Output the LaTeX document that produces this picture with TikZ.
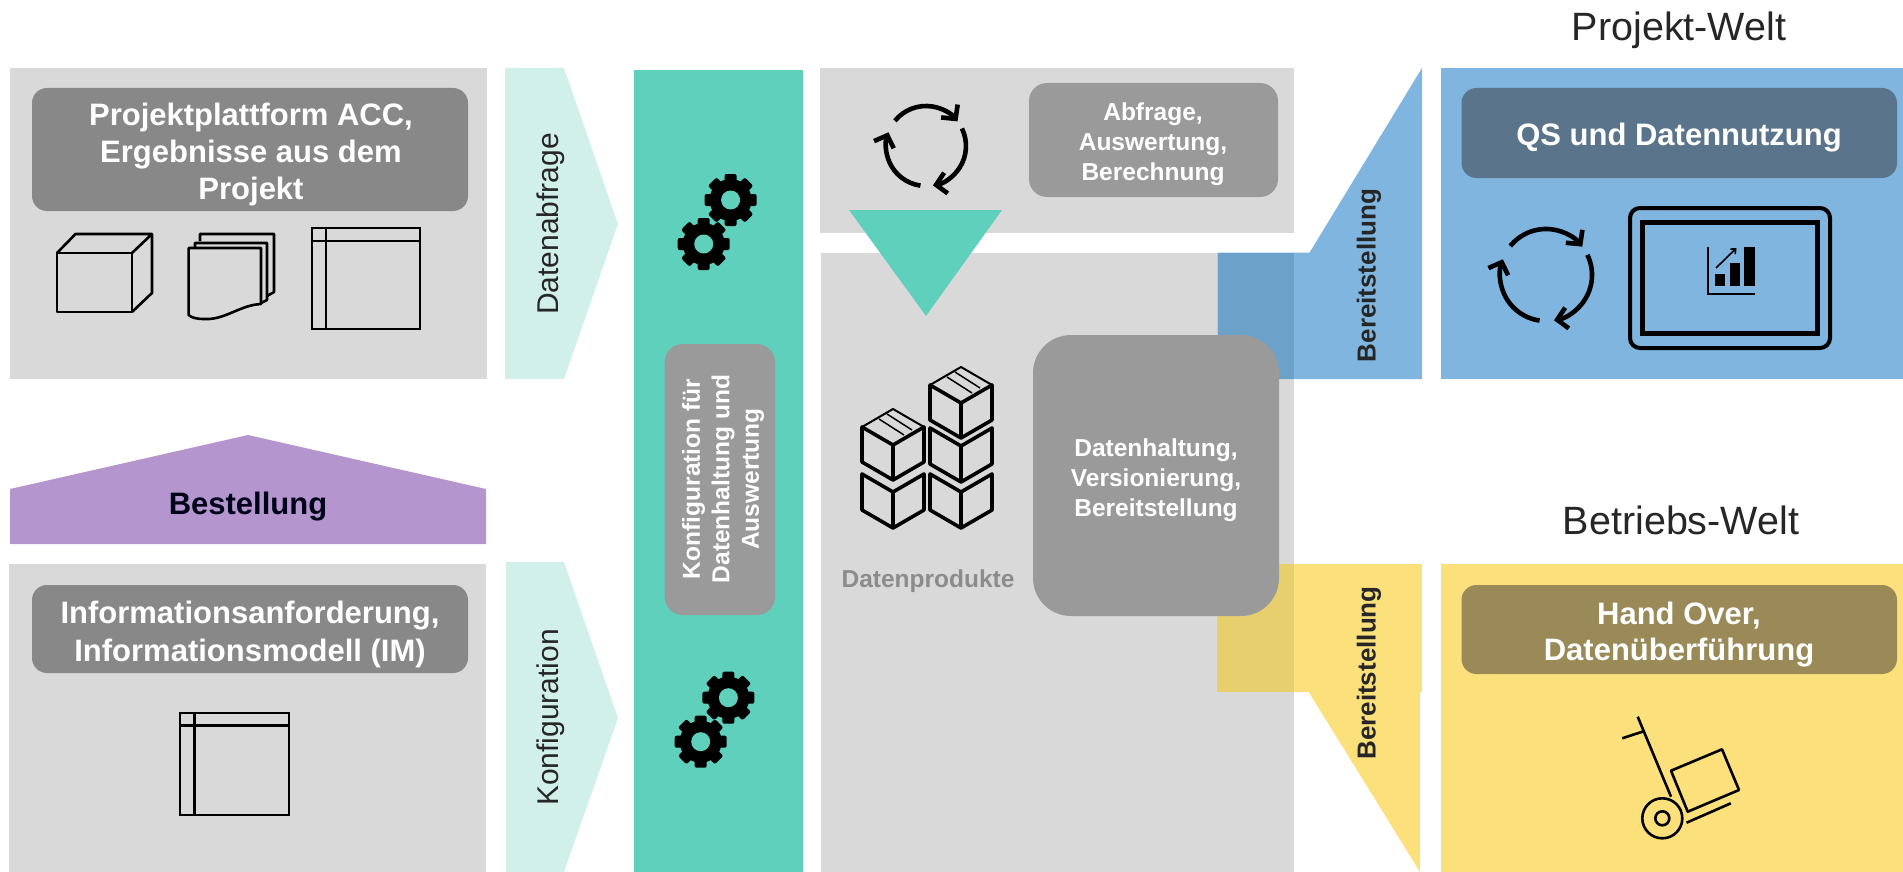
\documentclass[tikz,border=0pt]{standalone}
\usepackage{fontspec}
\setmainfont{Liberation Sans}
\usetikzlibrary{arrows.meta}
\definecolor{panelgrey}{HTML}{D9D9D9}
\definecolor{titlegrey}{HTML}{888888}
\definecolor{boxgrey}{HTML}{9A9A9A}
\definecolor{teal}{HTML}{5ED0BC}
\definecolor{lightteal}{HTML}{D1F0EA}
\definecolor{purp}{HTML}{B495CE}
\definecolor{blu}{HTML}{7FB5DF}
\definecolor{bluover}{HTML}{6CA1CA}
\definecolor{bluebox}{HTML}{5A748B}
\definecolor{yel}{HTML}{FBE07C}
\definecolor{yelover}{HTML}{E7CF6E}
\definecolor{yelbox}{HTML}{998A58}
\newcommand{\fs}[1]{\fontsize{#1}{#1}\selectfont}
% rectangle node by corners: name, x1, y1, x2, y2, style
\newcommand{\rbox}[6]{%
  \pgfmathsetmacro{\rw}{#4-#2}\pgfmathsetmacro{\rh}{#5-#3}%
  \node[#6,minimum width=\rw pt,minimum height=\rh pt] (#1) at ({(#2+#4)/2},{(#3+#5)/2}) {};}
% cycle icon: centre x, y, radius
\newcommand{\cycleicon}[3]{%
  \begin{scope}[shift={(#1,#2)},x=1pt,y=1pt]
    \draw[icoline,-{Straight Barb[length=10pt,width=21pt]}] (141:#3) arc[start angle=141,end angle=38,radius=#3];
    \draw[icoline,-{Straight Barb[length=10pt,width=21pt]}] (26:#3) arc[start angle=26,end angle=-80,radius=#3];
    \draw[icoline,-{Straight Barb[length=10pt,width=21pt]}] (-98:#3) arc[start angle=-98,end angle=-200,radius=#3];
  \end{scope}}
% stacked cube, no top face: centre x, bottom y
\newcommand{\opencube}[2]{%
  \begin{scope}[shift={(#1,#2)}]
    \draw[cubeline] (0,-36) -- (-31,-54) -- (-31,-18) -- (0,0) -- (31,-18) -- (31,-54) -- cycle;
    \draw[cubeline] (0,-36) -- (0,0);
  \end{scope}}
% full cube with parcel tape: centre x, bottom y
\newcommand{\topcube}[2]{%
  \begin{scope}[shift={(#1,#2)}]
    \draw[line width=2pt,line join=round] (-31,-53) -- (0,-71) -- (31,-53);
    \draw[line width=1.5pt] (-14,-61) -- (11,-45) (-6,-66) -- (19,-50);
    \draw[cubeline] (0,-35) -- (-31,-53) -- (-31,-18) -- (0,0) -- (31,-18) -- (31,-53) -- cycle;
    \draw[cubeline] (0,-35) -- (0,0);
  \end{scope}}
\tikzset{
  panel/.style={fill=panelgrey,draw=none,inner sep=0pt,outer sep=0pt},
  titlebox/.style={fill=titlegrey,draw=none,rounded corners=15pt,inner sep=0pt},
  greybox/.style={fill=boxgrey,draw=none,rounded corners=18pt,inner sep=0pt},
  whitelabel/.style={text=white,font=\bfseries\fs{31},align=center,inner sep=0pt},
  smalllabel/.style={text=white,font=\bfseries\fs{24.5},align=center,inner sep=0pt},
  sidelabel/.style={text=black!85,font=\fs{30},rotate=90,inner sep=0pt},
  boldside/.style={text=black!85,font=\bfseries\fs{26},rotate=90,inner sep=0pt},
  worldtitle/.style={text=black!85,font=\fs{39.5},inner sep=0pt},
  icoline/.style={line width=4.6pt,draw=black},
  cubeline/.style={line width=3.6pt,draw=black,line join=round},
  thin1/.style={line width=2.6pt,draw=black},
  gearicon/.pic={
    \fill[black] (0,0) circle[radius=21];
    \foreach \a in {0,45,...,315}{
      \fill[black,rotate=\a,rounded corners=2pt] (-6,15) rectangle (6,26);
    }
    \fill[teal] (0,0) circle[radius=9.5];
  },
}
\begin{document}
\begin{tikzpicture}[x=1pt,y=-1pt]
\useasboundingbox (0,0) rectangle (1903,872);
% left panels
\rbox{pA}{10}{68}{487}{379}{panel}
\rbox{pB}{9}{564}{486}{872}{panel}
\rbox{tA}{32}{88}{468}{211}{titlebox}
\rbox{tB}{32}{585}{468}{673}{titlebox}
\node[whitelabel] (tAa) at (251,117.5) {Projektplattform ACC,};
\node[whitelabel] (tAb) at (251,154.5) {Ergebnisse aus dem};
\node[whitelabel] (tAc) at (251,191.5) {Projekt};
\node[whitelabel] (tBa) at (250,616) {Informationsanforderung,};
\node[whitelabel] (tBb) at (250,653) {Informationsmodell (IM)};
% cube
\draw[thin1,line join=round] (57,253) rectangle (132,312);
\draw[thin1,line join=round] (57,253) -- (75.5,234) -- (152,234) -- (152,293) -- (132,312) (132,253) -- (152,234);
% documents
\draw[thin1,line join=round] (200,241) -- (200,234) -- (274,234) -- (274,292) -- (267,296);
\draw[thin1,line join=round] (195,248) -- (195,243) -- (267,243) -- (267,300) -- (261,303);
\draw[thin1,line join=round] (188.6,248) -- (261,248) -- (261,304) .. controls (240,305) and (225,320) .. (205,319) .. controls (197,319) and (192,318) .. (188.6,315) -- cycle;
% tables
\draw[thin1] (312,228) rectangle (420,329) (326,228) -- (326,329) (312,241) -- (420,241);
\draw[thin1] (180,713) rectangle (289,815) (194.5,713) -- (194.5,815) (180,725.7) -- (289,725.7);
% roof
\fill[purp] (10,489) -- (248,435) -- (486,489) -- (486,544) -- (10,544) -- cycle;
\node[font=\bfseries\fs{31},text=black!90!blue,inner sep=0pt] (best) at (248,507) {Bestellung};
% chevrons
\fill[lightteal] (505,68) -- (564,68) -- (618,224) -- (564,379) -- (505,379) -- cycle;
\fill[lightteal] (506,562) -- (564,562) -- (618,718) -- (564,872) -- (506,872) -- cycle;
\node[sidelabel] (labq) at (551,224) {Datenabfrage};
\node[sidelabel] (lkon) at (551,717.5) {Konfiguration};
% teal column
\rbox{col}{634}{70}{802.6}{872}{fill=teal,inner sep=0pt}
\pic at (730.6,200) {gearicon};
\pic at (703.7,244) {gearicon};
\pic at (728.4,697.7) {gearicon};
\pic at (700.7,741.7) {gearicon};
\rbox{kbox}{664.7}{344}{775}{615}{greybox}
\node[smalllabel,rotate=90] (kl1) at (693.5,479) {Konfiguration für};
\node[smalllabel,rotate=90] (kl2) at (723,479) {Datenhaltung und};
\node[smalllabel,rotate=90] (kl3) at (753,479) {Auswertung};
% centre panels
\rbox{pC}{820}{68}{1293.5}{233}{panel}
\rbox{pD}{821}{252.5}{1293.5}{872}{panel}
\cycleicon{926}{146}{40}
\rbox{qbox}{1029}{83}{1278}{197}{greybox}
\node[smalllabel] (q1) at (1153,114.5) {Abfrage,};
\node[smalllabel] (q2) at (1153,144.5) {Auswertung,};
\node[smalllabel] (q3) at (1153,174.5) {Berechnung};
\fill[teal] (849,210) -- (1002,210) -- (926,316) -- cycle;
% cubes
\opencube{893}{528}
\opencube{961}{528}
\opencube{961}{482}
\topcube{893}{480}
\topcube{961}{438}
\node[font=\bfseries\fs{24.5},text=black!45,inner sep=0pt] (prod) at (928,581) {Datenprodukte};
% blue and yellow funnels
\fill[blu] (1422,68) -- (1422,379) -- (1217.6,379) -- (1217.6,252.5) -- (1309.6,252.5) -- cycle;
\fill[bluover] (1217.6,252.5) rectangle (1293.5,379);
\fill[yel] (1216.7,564) rectangle (1422,691.7);
\fill[yel] (1308.5,691.7) -- (1420,691.7) -- (1420,872) -- cycle;
\fill[yelover] (1216.7,564) rectangle (1293.5,691.7);
\rbox{dbox}{1033}{335}{1279}{616}{greybox,rounded corners=38pt}
\node[smalllabel] (d1) at (1156,450) {Datenhaltung,};
\node[smalllabel] (d2) at (1156,480) {Versionierung,};
\node[smalllabel] (d3) at (1156,510) {Bereitstellung};
\node[boldside] (be1) at (1369,275.5) {Bereitstellung};
\node[boldside] (be2) at (1369,673) {Bereitstellung};
% right panels
\rbox{pE}{1441}{68}{1903}{379}{panel,fill=blu}
\rbox{pF}{1441}{564}{1903}{872}{panel,fill=yel}
\rbox{tE}{1461.5}{88}{1897}{178}{titlebox,fill=bluebox}
\rbox{tF}{1461.5}{585}{1897}{674}{titlebox,fill=yelbox}
\node[whitelabel] (tE1) at (1679,138) {QS und Datennutzung};
\node[whitelabel] (tF1) at (1679,616) {Hand Over,};
\node[whitelabel] (tF2) at (1679,653) {Datenüberführung};
\node[worldtitle] (wP) at (1679,30) {Projekt-Welt};
\node[worldtitle] (wB) at (1681,520) {Betriebs-Welt};
\cycleicon{1546}{275}{46}
% tablet
\draw[line width=4pt,rounded corners=10pt] (1630,208) rectangle (1830,348);
\draw[line width=5pt] (1642,222) rectangle (1817,333);
\draw[line width=2.4pt] (1707.7,247) -- (1707.7,294) -- (1754.6,294);
\fill (1715.4,274) rectangle (1725,286);
\fill (1730,263) rectangle (1740,286);
\fill (1744,247) rectangle (1755,286);
\draw[line width=1.6pt,-{Straight Barb[length=4pt,width=7pt]}] (1716,268) -- (1736.5,248);
% trolley
\draw[thin1] (1637.7,716.7) -- (1671,796.7) (1622.3,738.3) -- (1642.3,731.7);
\draw[thin1,line join=round] (1671,770.7) -- (1722,749.3) -- (1739,790) -- (1687.7,811.7) -- cycle;
\draw[thin1] (1686.5,822.7) -- (1730.8,803.3);
\draw[thin1] (1662.3,818.3) circle[radius=20];
\draw[thin1] (1662.3,818.3) circle[radius=7];
\end{tikzpicture}
\end{document}
